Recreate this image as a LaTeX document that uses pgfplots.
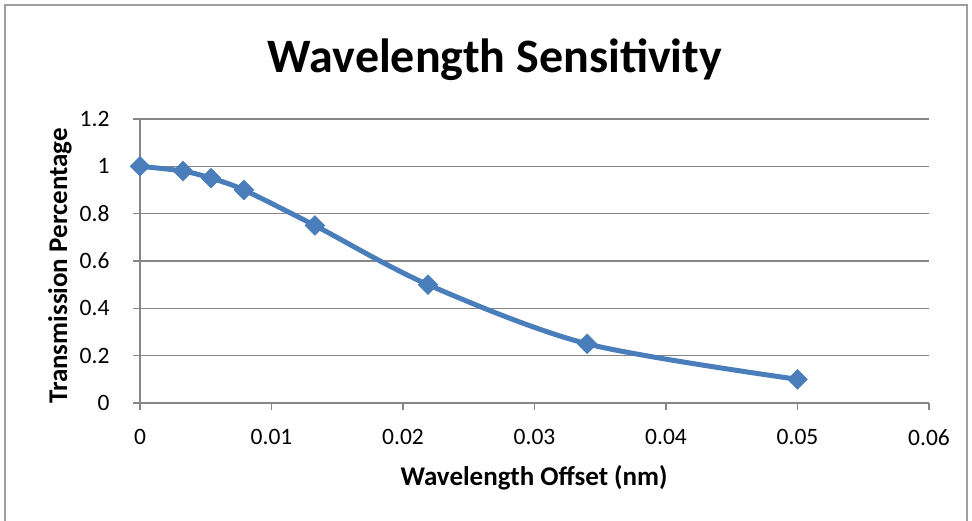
\documentclass[border=0pt]{standalone}
\usepackage{fontspec}
\setmainfont{Carlito}
\usepackage{pgfplots}
\pgfplotsset{compat=1.18}
\definecolor{xlblue}{RGB}{74,126,187}
\definecolor{xlgrid}{RGB}{134,134,134}
\begin{document}
\begin{tikzpicture}[x=1pt,y=1pt]
\useasboundingbox (0,0) rectangle (972,521);
\draw[xlgrid!80, line width=1.2pt] (5,-2) -- (5,516) -- (967,516) -- (967,-2);
\begin{axis}[
  at={(140pt,118pt)}, anchor=south west,
  scale only axis, width=789pt, height=284pt,
  xmin=0, xmax=0.06, ymin=0, ymax=1.2,
  xtick={0,0.01,0.02,0.03,0.04,0.05,0.06},
  ytick={0,0.2,0.4,0.6,0.8,1,1.2},
  scaled x ticks=false, scaled y ticks=false,
  axis x line*=bottom, axis y line*=left,
  axis line style={xlgrid, line width=1.3pt, -},
  ymajorgrids, grid style={xlgrid, line width=1.3pt},
  tick align=outside, major tick length=7pt,
  tick style={xlgrid, line width=1.3pt},
  /pgf/number format/assume math mode=true,
  xticklabel style={font=\fontsize{23.5}{28}\selectfont, /pgf/number format/fixed, /pgf/number format/precision=2, yshift=-16pt},
  yticklabel style={font=\fontsize{23.5}{28}\selectfont, /pgf/number format/fixed, xshift=-20pt},
  clip=false,
]
\addplot[color=xlblue, line width=5pt, smooth, tension=0.5, mark=square*, mark size=7pt, mark options={solid, rotate=45, fill=xlblue, draw=xlblue, line width=0.5pt}]
coordinates {
(0,1.0) (0.00327,0.98) (0.0054,0.95) (0.0079,0.90) (0.0133,0.75) (0.0219,0.50) (0.0340,0.25) (0.0500,0.10)
};
\end{axis}
\node[font=\fontsize{48}{56}\selectfont\bfseries] at (495,461) {Wavelength Sensitivity};
\node[font=\fontsize{27}{32}\selectfont\bfseries] at (534,43) {Wavelength Offset (nm)};
\node[font=\fontsize{27}{32}\selectfont\bfseries, rotate=90] at (60,255) {Transmission Percentage};
\end{tikzpicture}
\end{document}
